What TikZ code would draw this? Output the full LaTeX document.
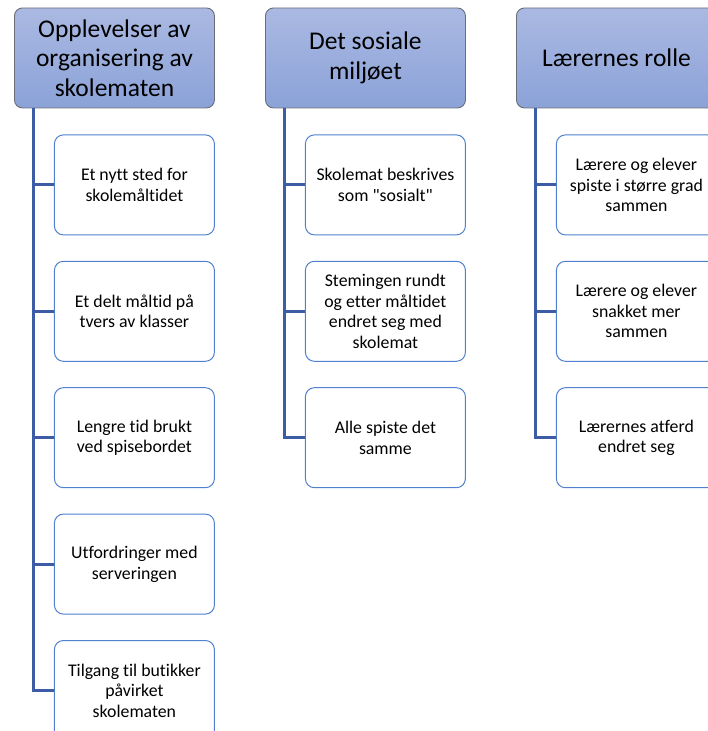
\documentclass[tikz,border=0pt]{standalone}
\usepackage{fontspec}
\setmainfont{Carlito}[Ligatures={TeXOff,CommonOff}]
\usetikzlibrary{positioning}
\definecolor{headtop}{RGB}{170,185,226}
\definecolor{headbot}{RGB}{139,162,216}
\definecolor{headline}{RGB}{105,110,120}
\definecolor{trunkblue}{RGB}{60,92,166}
\definecolor{leafline}{RGB}{80,128,206}

\begin{document}
\begin{tikzpicture}[
    x=1pt, y=1pt,
    node distance=25.4pt,
    head/.style={draw=headline, line width=0.9pt, rounded corners=8pt, top color=headtop, bottom color=headbot,
        minimum width=200pt, minimum height=100pt, align=center,
        font=\fontsize{25.5}{29.5}\selectfont, anchor=north west},
    leaf/.style={draw=leafline, line width=1pt, rounded corners=9pt, fill=white,
        minimum width=160pt, minimum height=100pt, align=center,
        font=\fontsize{17.8}{20.5}\selectfont},
    trunk/.style={draw=trunkblue, line width=3pt}
]
    \useasboundingbox (0,0) rectangle (707,-731);

    % Column headers
    \node[head] (org) at (14,-7.5) {Opplevelser av\\organisering av\\skolematen};
    \node[head] (sos) at (265,-7.5) {Det sosiale\\miljøet};
    \node[head] (lar) at (516,-7.5) {Lærernes rolle};

    % Column 1
    \node[leaf, below=26pt of org.south east, anchor=north east] (org1) {Et nytt sted for\\skolemåltidet};
    \node[leaf, below=of org1] (org2) {Et delt måltid på\\tvers av klasser};
    \node[leaf, below=of org2] (org3) {Lengre tid brukt\\ved spisebordet};
    \node[leaf, below=of org3] (org4) {Utfordringer med\\serveringen};
    \node[leaf, below=of org4] (org5) {Tilgang til butikker\\påvirket\\skolematen};

    % Column 2
    \node[leaf, below=26pt of sos.south east, anchor=north east] (sos1) {Skolemat beskrives\\som "sosialt"};
    \node[leaf, below=of sos1] (sos2) {Stemingen rundt\\og etter måltidet\\endret seg med\\skolemat};
    \node[leaf, below=of sos2] (sos3) {Alle spiste det\\samme};

    % Column 3
    \node[leaf, below=26pt of lar.south east, anchor=north east] (lar1) {Lærere og elever\\spiste i større grad\\sammen};
    \node[leaf, below=of lar1] (lar2) {Lærere og elever\\snakket mer\\sammen};
    \node[leaf, below=of lar2] (lar3) {Lærernes atferd\\endret seg};

    % Connectors
    \foreach \h/\c in {org/org1, org/org2, org/org3, org/org4, org/org5,
                       sos/sos1, sos/sos2, sos/sos3,
                       lar/lar1, lar/lar2, lar/lar3}
        \draw[trunk] ([xshift=19pt]\h.south west) |- (\c.west);
\end{tikzpicture}
\end{document}
